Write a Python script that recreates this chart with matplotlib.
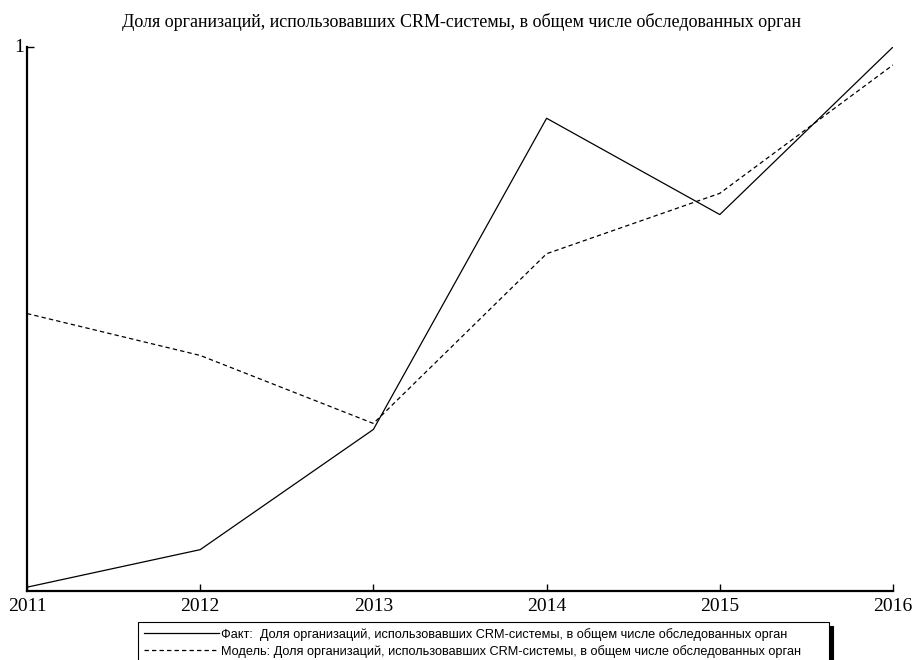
import matplotlib.pyplot as plt
from matplotlib.lines import Line2D

years = [2011, 2012, 2013, 2014, 2015, 2016]
fact = [0.007, 0.076, 0.297, 0.869, 0.692, 1.0]
model = [0.510, 0.433, 0.308, 0.620, 0.731, 0.967]

title = 'Доля организаций, использовавших CRM-системы, в общем числе обследованных орган'
fact_label = 'Факт:  Доля организаций, использовавших CRM-системы, в общем числе обследованных орган'
model_label = 'Модель: Доля организаций, использовавших CRM-системы, в общем числе обследованных орган'

W, H = 914, 660
fig = plt.figure(figsize=(W / 100, H / 100), dpi=100)
ax = fig.add_axes([27 / W, (H - 591) / H, (893 - 27) / W, (591 - 47) / H])

dash = (0, (3.5, 2.5))
ax.plot(years, fact, color='black', linewidth=0.9)
ax.plot(years, model, color='black', linewidth=0.9, linestyle=dash)

ax.set_xlim(2011, 2016)
ax.set_ylim(0, 1)
ax.set_xticks(years)
ax.set_xticklabels([str(y) for y in years])
ax.set_yticks([1])
ax.set_yticklabels(['1'])

for side in ['top', 'right']:
    ax.spines[side].set_visible(False)
for side in ['left', 'bottom']:
    ax.spines[side].set_linewidth(1.6)

ax.tick_params(axis='x', direction='in', length=5, width=1, pad=5,
               labelsize=14, labelfontfamily='Liberation Serif')
ax.tick_params(axis='y', direction='in', length=5, width=1, pad=2,
               labelsize=14, labelfontfamily='Liberation Serif')
for lbl in ax.get_yticklabels():
    lbl.set_verticalalignment('center')

fig.text(462 / W, 1 - 22 / H, title, ha='center', va='center',
         fontsize=13, family='Liberation Serif')

# legend box spans a fixed width below the axis, bottom edge runs off the figure
handles = [Line2D([], [], color='black', linewidth=0.9),
           Line2D([], [], color='black', linewidth=0.9, linestyle=dash)]
leg = fig.legend(handles, [fact_label, model_label], loc='upper left',
                 bbox_to_anchor=(138 / W, 1 - 622 / H, (829 - 138) / W, 0),
                 mode='expand', borderaxespad=0,
                 prop={'family': 'Liberation Sans', 'size': 9.2},
                 handlelength=5.9, handletextpad=0.15, borderpad=0.45,
                 labelspacing=0.32, fancybox=False, framealpha=1,
                 edgecolor='black',
                 shadow={'color': 'black', 'alpha': 1, 'ox': 3, 'oy': -3})
leg.get_frame().set_linewidth(0.8)

fig.savefig('out.png', dpi=100)
